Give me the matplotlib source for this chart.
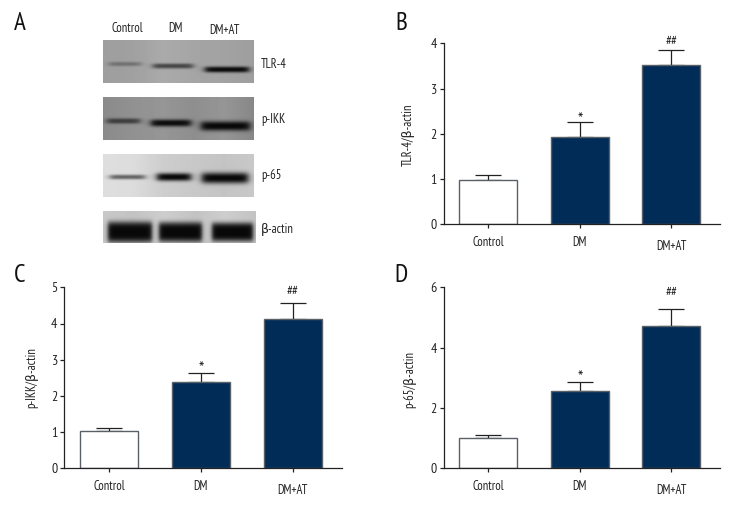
import numpy as np
import matplotlib
matplotlib.use('Agg')
import matplotlib.pyplot as plt

plt.rcParams['font.family'] = ['PT Sans Narrow', 'Archivo Narrow', 'DejaVu Sans']

W, H = 744, 516
navy = '#012c58'
ink = '#222222'

# bar data
groups = ['Control', 'DM', 'DM+AT']
tlr4_vals = [0.98, 1.93, 3.51]
tlr4_tops = [1.08, 2.25, 3.86]
ikk_vals = [1.03, 2.38, 4.12]
ikk_tops = [1.11, 2.64, 4.56]
p65_vals = [1.00, 2.57, 4.73]
p65_tops = [1.09, 2.85, 5.28]

# blot: left, right, top, bottom, background greys, bands (x0, x1, yc, half thickness, strength)
blots = [
    (103, 254, 40, 83, [158, 160, 170, 165, 162, 158],
     [(109, 141, 64, 2.2, 0.3), (153, 193, 66, 2.6, 0.6), (205, 249, 69.5, 3.0, 0.98)]),
    (103, 254, 97, 140, [138, 145, 150, 142, 150, 135],
     [(107, 140, 121, 2.8, 0.6), (151, 191, 123, 3.6, 0.97), (201, 250, 126, 4.8, 1.0)]),
    (103, 254, 154, 197, [222, 220, 205, 200, 196, 200],
     [(110, 145, 177, 2.4, 0.55), (157, 191, 177, 4.0, 1.0), (202, 248, 178, 5.5, 1.0)]),
    (103, 256, 211, 243, [200, 195, 205, 195, 205, 195],
     [(108, 152, 232, 10.5, 1.0), (159, 202, 232, 10.0, 1.0), (212, 253, 232, 9.5, 1.0)]),
]


def blot_image(x0, x1, y0, y1, greys, bands):
    xs = np.arange(x0, x1) + 0.5
    ys = np.arange(y0, y1) + 0.5
    xx, yy = np.meshgrid(xs, ys)
    img = np.interp(xs, np.linspace(x0, x1, len(greys)), greys) * np.ones_like(xx)
    for a, b, yc, t, s in bands:
        # thick loading-control bands have harder edges than the thin ones
        soft, power = (1.2, 4.0) if t > 8 else (2.0, 2.5)
        across = 1 / (1 + np.exp(-(xx - a) / soft)) * 1 / (1 + np.exp((xx - b) / soft))
        down = np.exp(-(np.abs(yy - yc) / t) ** power)
        img = img * (1 - s * across * down) + 8 * s * across * down
    return img


fig = plt.figure(figsize=(W / 100, H / 100), dpi=100, facecolor='white')

# panel A lives in a full-figure axes in pixel units
bg = fig.add_axes([0, 0, 1, 1])
bg.axis('off')
for x0, x1, y0, y1, greys, bands in blots:
    bg.imshow(blot_image(x0, x1, y0, y1, greys, bands), cmap='gray', vmin=0, vmax=255,
              extent=(x0, x1, y1, y0), aspect='auto', interpolation='bilinear')
bg.set_xlim(0, W)
bg.set_ylim(H, 0)

for label, x, y in zip(groups, [127, 175.5, 224.5], [29, 29, 31]):
    bg.text(x, y, label, ha='center', va='center', fontsize=9, color=ink)
for label, y in zip(['TLR-4', 'p-IKK', 'p-65', 'β-actin'], [64, 120, 175, 230]):
    bg.text(261, y, label, ha='left', va='center', fontsize=9, color=ink)
for label, x, y in zip('ABCD', [20, 401, 20, 401], [23, 23, 275, 275]):
    bg.text(x, y, label, ha='center', va='center', fontsize=18, color='#111111')


def bar_panel(left, right, top, bottom, vals, tops, ymax, yticks, ylabel, label_x, label_y, marks):
    ax = fig.add_axes([left / W, 1 - bottom / H, (right - left) / W, (bottom - top) / H])
    ax.patch.set_alpha(0)
    xpos = np.arange(3)
    ax.bar(xpos, vals, width=0.633, color=['white', navy, navy], edgecolor='#5a6068', linewidth=1.0, zorder=2)
    errs = np.array(tops) - np.array(vals)
    ax.errorbar(xpos, vals, yerr=[np.zeros(3), errs], fmt='none', ecolor=ink, elinewidth=0.9,
                capsize=9.5, capthick=0.9, zorder=1)
    ax.set_xlim(-0.485, 2.53)
    ax.set_ylim(0, ymax)
    ax.set_yticks(yticks)
    ax.set_xticks(xpos)
    ax.set_xticklabels(groups)
    ax.tick_params(axis='both', length=3, width=0.9, color=ink, labelcolor=ink)
    ax.tick_params(axis='y', labelsize=10, pad=2)
    ax.tick_params(axis='x', labelsize=9, pad=5.5)
    ax.xaxis.get_major_ticks()[2].set_pad(8)
    for s in ['top', 'right']:
        ax.spines[s].set_visible(False)
    for s in ['left', 'bottom']:
        ax.spines[s].set_linewidth(0.9)
        ax.spines[s].set_color(ink)
    fig.text(label_x / W, 1 - label_y / H, ylabel, rotation=90, ha='center', va='center', fontsize=9, color=ink)
    ax.text(1, marks[0], '*', ha='center', va='center', fontsize=13, color=ink, clip_on=False)
    ax.text(2, marks[1], '##', ha='center', va='center', fontsize=9.5, color=ink, clip_on=False)
    return ax


bar_panel(443.7, 720, 43.3, 224.3, tlr4_vals, tlr4_tops, 4, [0, 1, 2, 3, 4], 'TLR-4/β-actin', 408.7, 135, (2.28, 4.03))
bar_panel(64.3, 341.7, 287.3, 468.3, ikk_vals, ikk_tops, 5, [0, 1, 2, 3, 4, 5], 'p-IKK/β-actin', 32, 378, (2.70, 4.87))
bar_panel(443.7, 720, 287.3, 468.3, p65_vals, p65_tops, 6, [0, 2, 4, 6], 'p-65/β-actin', 410, 380, (2.95, 5.83))

fig.savefig('out.png', dpi=100)
